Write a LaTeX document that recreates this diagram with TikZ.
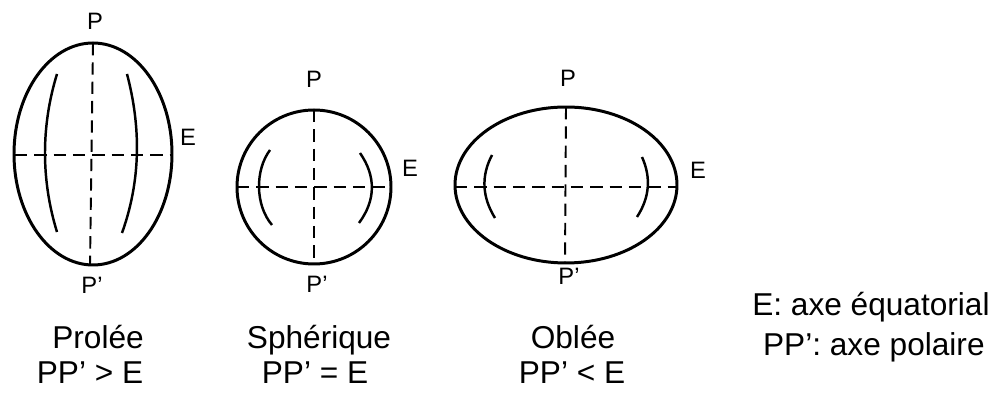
\documentclass[tikz,border=0pt]{standalone}
\usepackage{fontspec}
\setmainfont{Liberation Sans}
\usetikzlibrary{positioning}

\tikzset{
  body/.style={line width=1.7pt},
  axis/.style={line width=1.1pt, dash pattern=on 7pt off 4pt},
  meridian/.style={line width=1.4pt},
  pole/.style={font=\fontsize{13.5}{15}\selectfont, inner sep=0pt},
  caption/.style={font=\fontsize{18}{20}\selectfont, inner sep=0pt, anchor=base}
}

\begin{document}
\begin{tikzpicture}[x=0.02cm, y=-0.02cm]
\useasboundingbox (0,0) rectangle (995,394);
% prolate
\draw[body] (93,154) ellipse (79 and 111);
\draw[axis] (93,43) -- (90,265);
\draw[axis] (15,155) -- (172,155);
\draw[meridian] (57,74) .. controls (41,126) and (41,180) .. (57,232);
\draw[meridian] (127,74) .. controls (141,127) and (141,180) .. (122,233);
\node[pole] (p1) at (95,21) {P};
\node[pole] (e1) at (188,137) {E};
\node[pole] (q1) at (92,285) {P'};
% sphere
\draw[body] (314,187) circle (77);
\draw[axis] (314,110) -- (314,264);
\draw[axis] (237,187) -- (391,187);
\draw[meridian] (270,150) .. controls (255,170) and (255,205) .. (272,225);
\draw[meridian] (360,153) .. controls (376,176) and (376,200) .. (359,223);
\node[pole] (p2) at (314,79) {P};
\node[pole] (e2) at (410,168) {E};
\node[pole] (q2) at (317,284) {P'};
% oblate
\draw[body] (566,185) ellipse (111 and 78);
\draw[axis] (566,107) -- (565,263);
\draw[axis] (455,187) -- (677,187);
\draw[meridian] (492,155) .. controls (481,176) and (482,197) .. (495,218);
\draw[meridian] (642,157) .. controls (651,177) and (650,197) .. (637,217);
\node[pole] (p3) at (568,78) {P};
\node[pole] (e3) at (698,170) {E};
\node[pole] (q3) at (569,276) {P'};
% captions
\node[caption] (prolee) at (98,349) {Prolée};
\node[caption] (prorel) at (90,384) {PP' > E};
\node[caption] (spher) at (319,349) {Sphérique};
\node[caption] (sphrel) at (315,384) {PP' = E};
\node[caption] (oblee) at (573,349) {Oblée};
\node[caption] (oblrel) at (572,384) {PP' < E};
% legend
\node[caption, anchor=base east] (leg1) at (990,316) {E: axe équatorial};
\node[caption, anchor=base east] (leg2) at (985,356) {PP': axe polaire};
\end{tikzpicture}
\end{document}
